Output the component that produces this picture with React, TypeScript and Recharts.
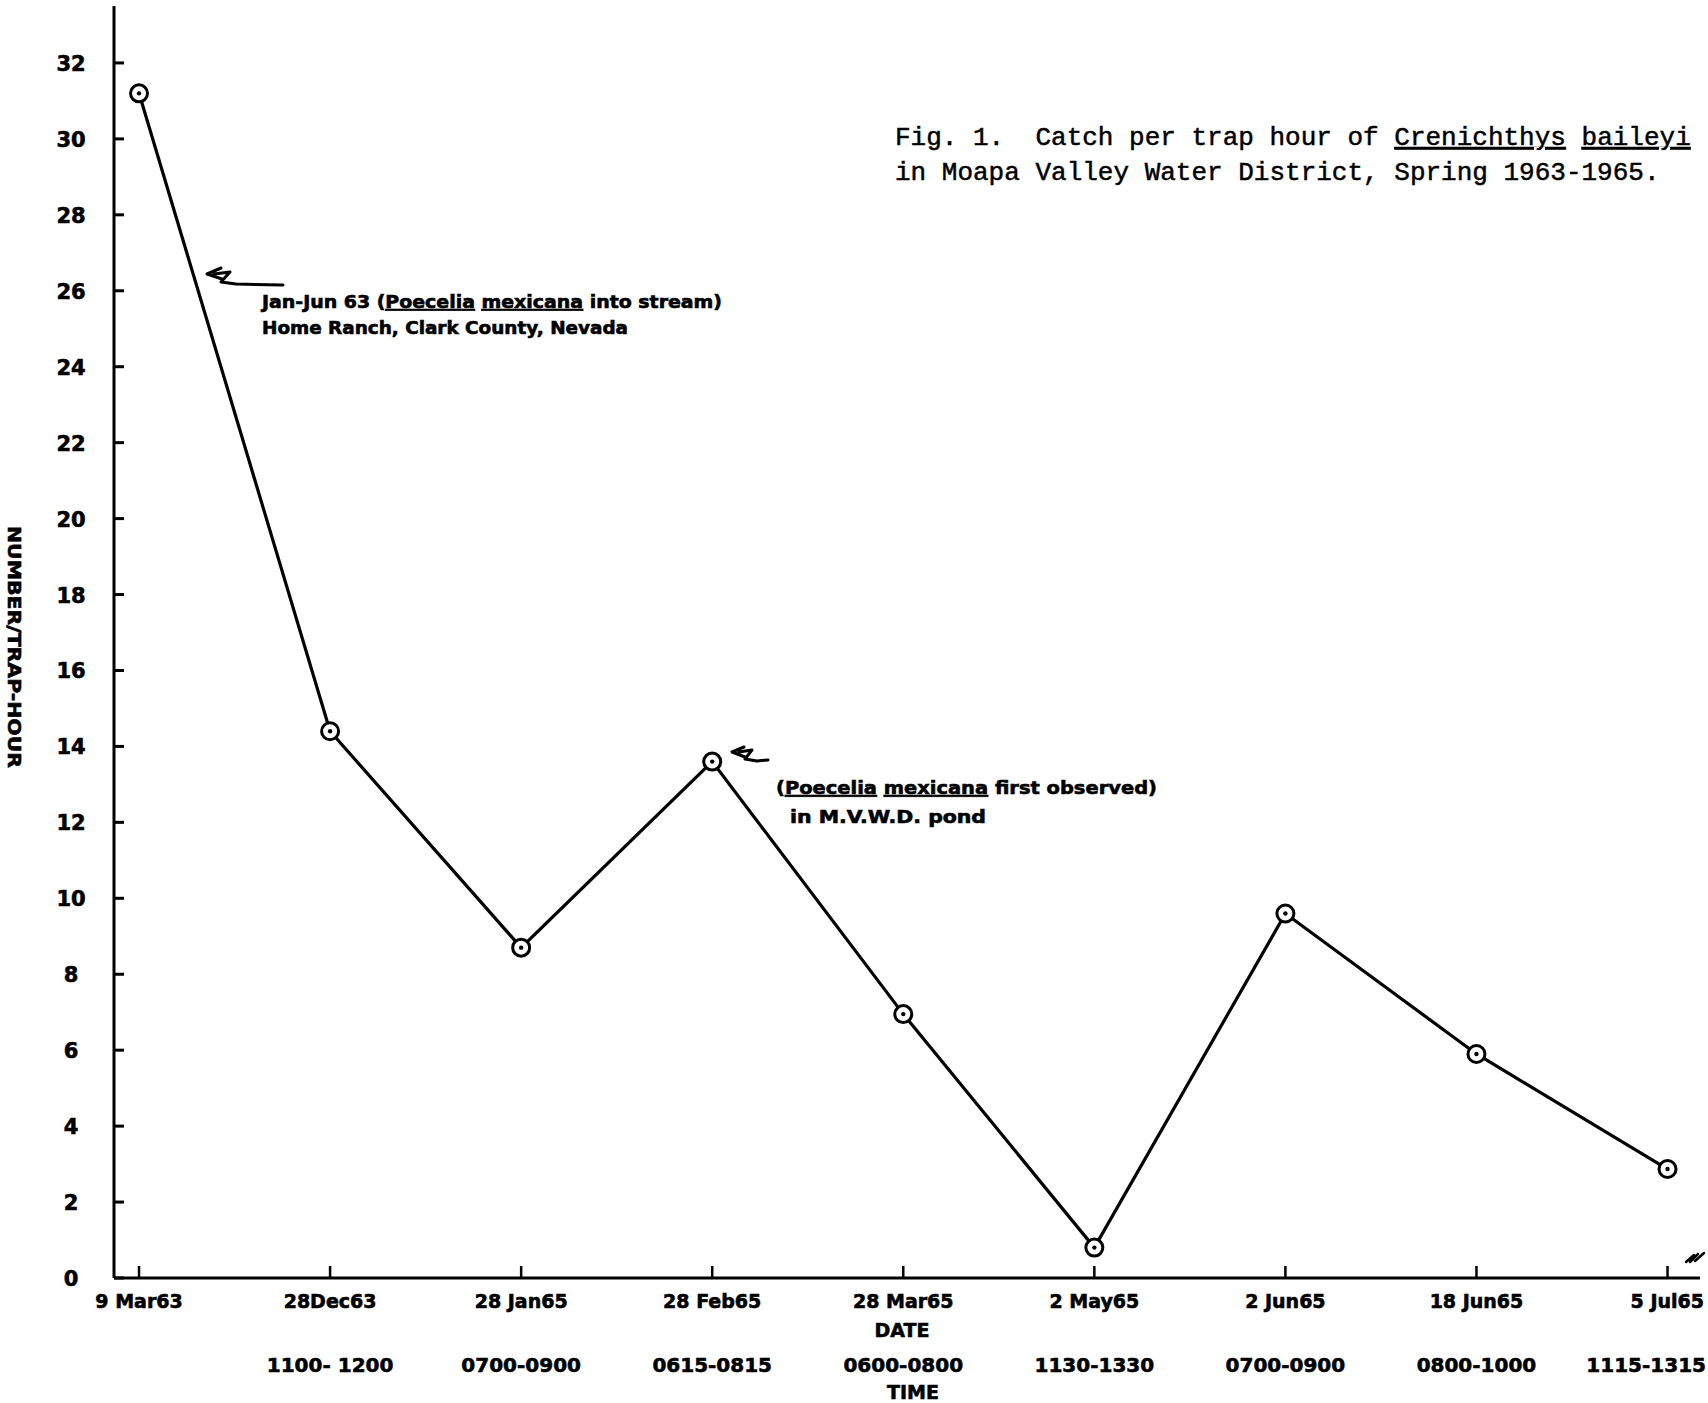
import React from 'react';
import { LineChart, Line, XAxis, YAxis } from 'recharts';

const dates = ['9 Mar63', '28Dec63', '28 Jan65', '28 Feb65', '28 Mar65', '2 May65', '2 Jun65', '18 Jun65', '5 Jul65'];
const times = ['', '1100- 1200', '0700-0900', '0615-0815', '0600-0800', '1130-1330', '0700-0900', '0800-1000', '1115-1315'];
const catchPerHour = [31.2, 14.4, 8.7, 13.6, 6.95, 0.8, 9.6, 5.9, 2.87];
const yTicks = [0, 2, 4, 6, 8, 10, 12, 14, 16, 18, 20, 22, 24, 26, 28, 30, 32];
const xIndex = dates.map((_, i) => i);

const data = dates.map((d, i) => ({ idx: i, date: d, time: times[i], value: catchPerHour[i] }));

const W = 1708;
const BOLD = "'DejaVu Sans', 'Liberation Sans', sans-serif";
const MONO = "'Liberation Mono', 'DejaVu Sans Mono', monospace";
const heavy = { stroke: '#000', strokeWidth: 0.6 };

const XTick = (props: any) => {
  const { x, y, payload } = props;
  const i = payload.value as number;
  const nearEdge = x + 62 > W;
  return (
    <g>
      <line x1={x} y1={y} x2={x} y2={y - 12} stroke="#000" strokeWidth={2.5} />
      <text x={nearEdge ? W - 4 : x} y={y + 30} textAnchor={nearEdge ? 'end' : 'middle'} fontFamily={BOLD} fontWeight={700} fontSize={19} fill="#000" {...heavy}>
        {dates[i]}
      </text>
      {times[i] ? (
        <text x={nearEdge ? W - 2 : x} y={y + 94} textAnchor={nearEdge ? 'end' : 'middle'} fontFamily={BOLD} fontWeight={700} fontSize={20} fill="#000" {...heavy}>
          {times[i]}
        </text>
      ) : null}
    </g>
  );
};

const YTick = (props: any) => {
  const { x, y, payload } = props;
  return (
    <g>
      <line x1={x} y1={y} x2={x + 10} y2={y} stroke="#000" strokeWidth={3} />
      <text x={x - 43} y={y + 8} textAnchor="middle" fontFamily={BOLD} fontWeight={700} fontSize={21} fill="#000" {...heavy}>
        {payload.value}
      </text>
    </g>
  );
};

const Dot = (props: any) => {
  const { cx, cy } = props;
  if (cx == null || cy == null) return null;
  return (
    <g>
      <circle cx={cx} cy={cy} r={8.5} fill="#fff" stroke="#000" strokeWidth={3} />
      <circle cx={cx} cy={cy} r={2.2} fill="#000" />
    </g>
  );
};

const U = (p: any) => <tspan style={{ textDecoration: 'underline' }}>{p.children}</tspan>;

export default function App() {
  return (
    <div style={{ position: 'absolute', left: 0, top: 0, width: W, height: 1403, background: '#fff', overflow: 'hidden' }}>
      <LineChart width={W} height={1403} data={data} margin={{ top: 6, right: 8, bottom: 0, left: 0 }}>
        <XAxis
          dataKey="idx"
          type="number"
          domain={[-0.131, 8.17]}
          ticks={xIndex}
          allowDataOverflow
          height={125}
          axisLine={{ stroke: '#000', strokeWidth: 3 }}
          tickLine={false}
          tickSize={0}
          tickMargin={0}
          tick={<XTick />}
          interval={0}
        />
        <YAxis
          type="number"
          domain={[0, 33.5]}
          ticks={yTicks}
          allowDataOverflow
          width={114}
          axisLine={{ stroke: '#000', strokeWidth: 3 }}
          tickLine={false}
          tickSize={0}
          tickMargin={0}
          tick={<YTick />}
          interval={0}
        />
        <Line
          type="linear"
          dataKey="value"
          stroke="#000"
          strokeWidth={3.2}
          dot={<Dot />}
          activeDot={false}
          isAnimationActive={false}
        />
      </LineChart>
      <svg width={W} height={1403} style={{ position: 'absolute', left: 0, top: 0, pointerEvents: 'none' }}>
        <text x={895} y={145} fontFamily={MONO} fontSize={26} fill="#000" stroke="#000" strokeWidth={0.5} xmlSpace="preserve">
          Fig. 1.  Catch per trap hour of <U>Crenichthys</U> <U>baileyi</U>
        </text>
        <text x={895} y={180} fontFamily={MONO} fontSize={26} fill="#000" stroke="#000" strokeWidth={0.5} xmlSpace="preserve">
          in Moapa Valley Water District, Spring 1963-1965.
        </text>

        <path d="M221 268 L207 274 L222 279 M214 274 L230 272 L221 282 L236 284 L283 285" fill="none" stroke="#000" strokeWidth={3} strokeLinecap="round" strokeLinejoin="round" />
        <text x={262} y={308} fontFamily={BOLD} fontWeight={700} fontSize={17} fill="#000" {...heavy} textLength={460} lengthAdjust="spacingAndGlyphs">
          Jan-Jun 63 (<U>Poecelia</U> <U>mexicana</U> into stream)
        </text>
        <text x={262} y={334} fontFamily={BOLD} fontWeight={700} fontSize={17} fill="#000" {...heavy} textLength={366} lengthAdjust="spacingAndGlyphs">
          Home Ranch, Clark County, Nevada
        </text>

        <path d="M744 747 L732 752 L745 757 M739 752 L752 750 L745 759 L757 761 L768 760" fill="none" stroke="#000" strokeWidth={3} strokeLinecap="round" strokeLinejoin="round" />
        <text x={776} y={794} fontFamily={BOLD} fontWeight={700} fontSize={18} fill="#000" {...heavy} textLength={381} lengthAdjust="spacingAndGlyphs">
          (<U>Poecelia</U> <U>mexicana</U> first observed)
        </text>
        <text x={790} y={823} fontFamily={BOLD} fontWeight={700} fontSize={17} fill="#000" {...heavy} textLength={196} lengthAdjust="spacingAndGlyphs">
          in M.V.W.D. pond
        </text>

        <text x={902} y={1337} textAnchor="middle" fontFamily={BOLD} fontWeight={700} fontSize={19} fill="#000" {...heavy}>DATE</text>
        <text x={913} y={1399} textAnchor="middle" fontFamily={BOLD} fontWeight={700} fontSize={19} fill="#000" {...heavy}>TIME</text>

        <text
          x={14}
          y={647}
          transform="rotate(90 14 647)"
          textAnchor="middle"
          dominantBaseline="central"
          fontFamily={BOLD}
          fontWeight={700}
          fontSize={18}
          fill="#000"
          {...heavy}
          textLength={242}
          lengthAdjust="spacingAndGlyphs"
        >
          NUMBER/TRAP-HOUR
        </text>

        <path d="M1686 1262 L1694 1255 M1690 1262 L1698 1254 M1695 1261 L1704 1253" fill="none" stroke="#000" strokeWidth={2.5} strokeLinecap="round" />
      </svg>
    </div>
  );
}
